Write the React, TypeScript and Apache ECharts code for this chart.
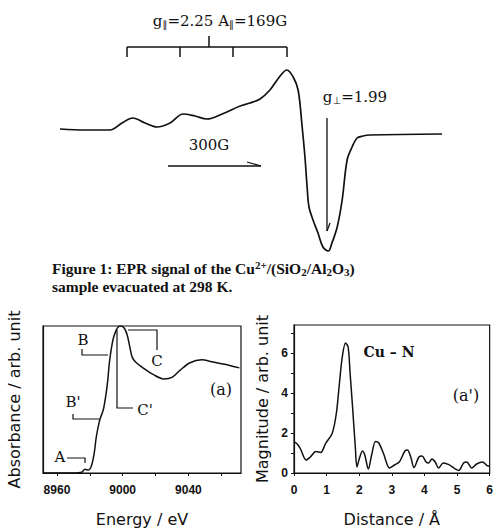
import React, { useEffect, useRef } from "react";
import * as echarts from "echarts";

// EPR spectrum (field offset in G, signal in arbitrary units)
const eprField = [0, 81, 161, 200, 235, 274, 313, 355, 397, 435, 474, 523, 581, 613, 645, 677, 710, 732, 752, 768, 781, 790, 797, 803, 816, 832, 848, 865, 877, 894, 910, 926, 942, 958, 977, 1000, 1232];
const eprSignal = [1, 0, 0, 7, 12, 7, 3, 7, 16, 14, 11, 16, 24, 27, 31, 40, 54, 60, 53, 40, 3, -27, -57, -77, -90, -103, -117, -121, -113, -97, -70, -30, -17, -8, -6, -5, -4];

// XANES (a)
const xanesEnergy = [8952, 8970, 8975, 8977, 8979, 8981, 8982.6, 8984, 8986, 8988.2, 8989.9, 8990.9, 8991.9, 8993, 8994.4, 8996, 8997.4, 8998.9, 9001, 9002.7, 9004.3, 9005.7, 9007.7, 9013, 9019, 9025, 9030, 9035, 9041, 9048, 9055, 9062, 9071];
const xanesAbs = [0, 0, 0.005, 0.025, 0.02, 0.05, 0.13, 0.25, 0.36, 0.43, 0.54, 0.63, 0.75, 0.84, 0.92, 0.97, 0.995, 1.0, 0.985, 0.94, 0.86, 0.79, 0.757, 0.71, 0.667, 0.64, 0.65, 0.7, 0.75, 0.77, 0.755, 0.74, 0.715];
const energyTicks = [8960, 8980, 9000, 9020, 9040, 9060];
const energyLabels = [8960, 9000, 9040];

// EXAFS FT (a')
const ftDistance = [0, 0.1, 0.2, 0.37, 0.5, 0.67, 0.82, 0.97, 1.17, 1.3, 1.4, 1.48, 1.58, 1.66, 1.72, 1.8, 1.88, 1.93, 2.0, 2.1, 2.17, 2.28, 2.38, 2.5, 2.6, 2.75, 2.93, 3.08, 3.23, 3.4, 3.48, 3.58, 3.68, 3.83, 3.93, 4.05, 4.13, 4.23, 4.33, 4.43, 4.58, 4.75, 4.93, 5.05, 5.2, 5.3, 5.45, 5.6, 5.78, 5.95, 6.0];
const ftMagnitude = [1.57, 1.45, 1.2, 0.65, 0.8, 1.07, 1.03, 1.48, 1.98, 3.0, 4.6, 5.8, 6.5, 6.3, 5.0, 3.2, 1.3, 0.3, 0.7, 1.1, 0.9, 0.2, 0.9, 1.57, 1.5, 0.95, 0.25, 0.4, 0.55, 1.1, 1.15, 0.8, 0.27, 0.8, 0.85, 0.55, 0.5, 0.7, 0.55, 0.25, 0.5, 0.42, 0.22, 0.12, 0.5, 0.55, 0.25, 0.45, 0.55, 0.35, 0.35];
const distTicks = [0, 1, 2, 3, 4, 5, 6];
const magTicks = [0, 1, 2, 3, 4, 5, 6, 7];
const magLabels = [0, 2, 4, 6];

const SERIF = "'DejaVu Serif', 'Liberation Serif', serif";
const TIMES = "'Liberation Serif', 'Times New Roman', serif";
const SANS = "'DejaVu Sans', Arial, sans-serif";
const ARIAL = "'Liberation Sans', Arial, sans-serif";
const INK = "#111";

function zip(a: number[], b: number[]) {
  return a.map((v, i) => [v, b[i]]);
}

export default function App() {
  const ref = useRef<HTMLDivElement>(null);
  useEffect(() => {
    if (!ref.current) return;
    const chart = echarts.init(ref.current, undefined, { renderer: "svg" });
    const line = (pts: number[][], color = INK, w = 1.5) => ({
      type: "polyline",
      shape: { points: pts },
      style: { stroke: color, lineWidth: w, fill: "none" },
      silent: true,
    });
    const txt = (x: number, y: number, text: string, extra: any = {}) => ({
      type: "text",
      x,
      y,
      style: {
        text,
        fill: INK,
        font: `15px ${SERIF}`,
        textAlign: "center",
        textVerticalAlign: "middle",
        ...extra,
      },
      silent: true,
    });
    const axisLineStyle = { lineStyle: { color: INK, width: 1.2 } };
    const tickLabel = { color: INK, fontSize: 12, fontWeight: "bold", fontFamily: ARIAL, formatter: (v: number) => String(v) };
    const nameStyle = { color: INK, fontSize: 16, fontFamily: SANS };
    const subStyle = { fontSize: 10, fontFamily: "'DejaVu Sans', sans-serif", fill: INK, color: INK, padding: [6, 0, 0, 0] };
    const option: any = {
      animation: false,
      backgroundColor: "#fff",
      grid: [
        { left: 60, top: 50, width: 382, height: 210, show: false },
        { left: 43, top: 326, width: 198, height: 147, show: true, borderColor: INK, borderWidth: 1.2, backgroundColor: "transparent" },
        { left: 294, top: 325, width: 199, height: 148, show: true, borderColor: INK, borderWidth: 1.2, backgroundColor: "transparent" },
      ],
      xAxis: [
        { type: "value", gridIndex: 0, min: 0, max: 1232, show: false },
        {
          type: "value",
          gridIndex: 1,
          min: 8951.5,
          max: 9072,
          axisLine: axisLineStyle,
          axisTick: { show: true, length: 3, customValues: energyTicks, lineStyle: { color: INK } },
          axisLabel: { ...tickLabel, customValues: energyLabels, margin: 11 },
          splitLine: { show: false },
          name: "Energy / eV",
          nameLocation: "middle",
          nameGap: 38,
          nameTextStyle: nameStyle,
        },
        {
          type: "value",
          gridIndex: 2,
          min: 0,
          max: 6,
          axisLine: axisLineStyle,
          axisTick: { show: true, length: 3, customValues: distTicks, lineStyle: { color: INK } },
          axisLabel: { ...tickLabel, customValues: distTicks, margin: 11 },
          splitLine: { show: false },
          name: "Distance / Å",
          nameLocation: "middle",
          nameGap: 38,
          nameTextStyle: nameStyle,
        },
      ],
      yAxis: [
        { type: "value", gridIndex: 0, min: -130, max: 80, show: false },
        {
          type: "value",
          gridIndex: 1,
          min: 0,
          max: 1,
          axisLine: axisLineStyle,
          axisTick: { show: false },
          axisLabel: { show: false },
          splitLine: { show: false },
          name: "Absorbance / arb. unit",
          nameLocation: "middle",
          nameGap: 21,
          nameTextStyle: nameStyle,
        },
        {
          type: "value",
          gridIndex: 2,
          min: 0,
          max: 7.4,
          axisLine: axisLineStyle,
          axisTick: { show: true, length: 3, customValues: magTicks, lineStyle: { color: INK } },
          axisLabel: { ...tickLabel, customValues: magLabels, margin: 6 },
          splitLine: { show: false },
          name: "Magnitude / arb. unit",
          nameLocation: "middle",
          nameGap: 24,
          nameTextStyle: nameStyle,
        },
      ],
      series: [
        {
          type: "line",
          xAxisIndex: 0,
          yAxisIndex: 0,
          data: zip(eprField, eprSignal),
          smooth: 0.35,
          showSymbol: false,
          lineStyle: { color: INK, width: 1.7 },
        },
        {
          type: "line",
          xAxisIndex: 1,
          yAxisIndex: 1,
          data: zip(xanesEnergy, xanesAbs),
          smooth: 0.3,
          showSymbol: false,
          lineStyle: { color: INK, width: 1.5 },
        },
        {
          type: "line",
          xAxisIndex: 2,
          yAxisIndex: 2,
          data: zip(ftDistance, ftMagnitude),
          smooth: 0.3,
          showSymbol: false,
          lineStyle: { color: INK, width: 1.5 },
        },
      ],
      graphic: [
        // EPR annotations
        {
          type: "text",
          x: 220,
          y: 21,
          silent: true,
          style: {
            text: "g{s|∥}=2.25 A{s|∥}=169G",
            fill: INK,
            font: `15px ${SERIF}`,
            textAlign: "center",
            textVerticalAlign: "middle",
            rich: { s: subStyle },
          },
        },
        line([[127, 47], [287, 47]]),
        line([[127, 47], [127, 57]]),
        line([[180, 47], [180, 57]]),
        line([[233, 47], [233, 57]]),
        line([[287, 47], [287, 57]]),
        line([[209, 36], [209, 47]]),
        {
          type: "text",
          x: 355,
          y: 97,
          silent: true,
          style: {
            text: "g{s|⊥}=1.99",
            fill: INK,
            font: `15px ${SERIF}`,
            textAlign: "center",
            textVerticalAlign: "middle",
            rich: { s: subStyle },
          },
        },
        line([[327, 118], [327, 231]], INK, 1.3),
        line([[327, 231], [330, 223]], INK, 1.3),
        txt(209, 145, "300G", { font: `15px ${SERIF}` }),
        line([[168, 166], [261, 166]], INK, 1.3),
        line([[247, 162], [261, 166]], INK, 1.3),
        // caption
        {
          type: "text",
          x: 52,
          y: 268,
          silent: true,
          style: {
            text: "Figure 1: EPR signal of the Cu{sup|2+}/(SiO{sub|2}/Al{sub|2}O{sub|3})",
            fill: INK,
            font: `bold 15.5px ${TIMES}`,
            textAlign: "left",
            textVerticalAlign: "middle",
            rich: {
              sup: { fontSize: 11, fontWeight: "bold", fontFamily: TIMES, fill: INK, padding: [0, 0, 7, 0] },
              sub: { fontSize: 11, fontWeight: "bold", fontFamily: TIMES, fill: INK, padding: [7, 0, 0, 0] },
            },
          },
        },
        txt(52, 286, "sample evacuated at 298 K.", { font: `bold 15.5px ${TIMES}`, textAlign: "left" }),
        // (a) annotations
        txt(83, 340, "B"),
        line([[82, 349], [82, 355], [108, 355]], INK, 1.2),
        txt(73, 402, "B'"),
        line([[73, 414], [73, 419], [99, 419]], INK, 1.2),
        txt(60, 457, "A"),
        line([[67, 458], [85, 458], [85, 463]], INK, 1.2),
        line([[117, 330], [117, 408], [133, 408]], INK, 1.2),
        txt(145, 410, "C'"),
        line([[128, 330], [157, 330], [157, 350]], INK, 1.2),
        txt(157, 361, "C"),
        txt(221, 389, "(a)", { font: `16px ${SERIF}` }),
        // (a') annotations
        txt(389, 352, "Cu – N", { font: `bold 14px ${SERIF}` }),
        txt(466, 395, "(a')", { font: `16px ${SERIF}` }),
      ],
    };
    chart.setOption(option);
    return () => chart.dispose();
  }, []);
  return (
    <div
      ref={ref}
      style={{ position: "fixed", left: 0, top: 0, width: 496, height: 528, background: "#fff" }}
    />
  );
}
